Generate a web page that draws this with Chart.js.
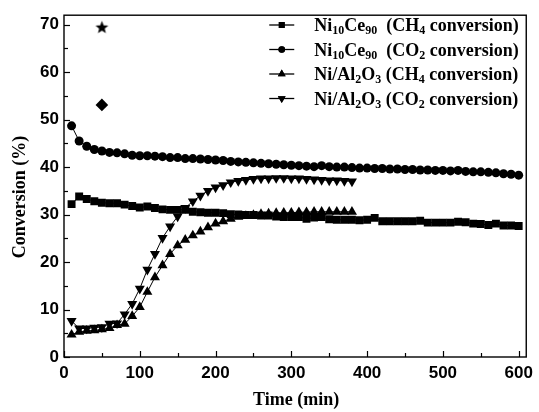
<!DOCTYPE html>
<html><head><meta charset="utf-8">
<script src="https://cdn.jsdelivr.net/npm/chart.js@4"></script>
<style>html,body{margin:0;padding:0;background:#fff}</style>
</head><body>
<canvas id="c" width="539" height="412"></canvas>
<script>
const timeNiCe = [10,20,30,40,50,60,70,80,90,100,110,120,130,140,150,160,170,180,190,200,
  210,220,230,240,250,260,270,280,290,300,310,320,330,340,350,360,370,380,390,400,
  410,420,430,440,450,460,470,480,490,500,510,520,530,540,550,560,570,580,590,600];
const ch4NiCe = [32.2,33.8,33.3,32.8,32.5,32.4,32.4,32.1,31.8,31.5,31.7,31.4,31.1,31.0,31.0,31.0,30.6,30.5,30.4,30.4,
  30.3,30.1,30.0,29.9,29.9,29.8,29.8,29.6,29.5,29.5,29.5,29.1,29.4,29.5,29.0,28.9,28.9,28.9,28.8,28.9,
  29.3,28.6,28.6,28.6,28.6,28.6,28.7,28.3,28.3,28.3,28.3,28.5,28.4,28.1,28.0,27.8,28.1,27.7,27.7,27.6];
const co2NiCe = [48.7,45.5,44.4,43.7,43.4,43.1,43.0,42.8,42.5,42.4,42.4,42.3,42.2,42.0,42.0,41.8,41.8,41.7,41.6,41.5,
  41.4,41.2,41.1,41.0,40.9,40.8,40.7,40.6,40.5,40.4,40.3,40.2,40.1,40.3,40.1,40.0,40.0,39.9,39.8,39.8,
  39.7,39.7,39.6,39.6,39.5,39.5,39.4,39.4,39.3,39.3,39.2,39.3,39.1,39.0,39.0,38.9,38.8,38.6,38.5,38.3];
const timeNiAl = [10,20,30,40,50,60,70,80,90,100,110,120,130,140,150,160,170,180,190,200,
  210,220,230,240,250,260,270,280,290,300,310,320,330,340,350,360,370,380];
const ch4NiAl = [4.7,5.3,5.5,5.6,5.8,6.1,6.7,7.0,8.6,10.5,13.7,16.8,19.3,21.7,23.5,24.7,25.6,26.4,27.3,28.1,
  28.6,29.1,29.5,29.7,29.9,30.1,30.2,30.3,30.4,30.4,30.5,30.5,30.6,30.6,30.6,30.6,30.6,30.6];
const co2NiAl = [7.6,6.0,6.0,6.2,6.3,7.0,7.1,9.0,11.2,14.4,18.4,21.7,25.1,27.5,29.6,31.4,32.8,34.0,35.0,35.7,
  36.2,36.8,37.1,37.3,37.5,37.6,37.6,37.7,37.7,37.6,37.6,37.5,37.4,37.3,37.2,37.2,37.1,37.0];
const starPoint = [{x:50, y:69.5}];
const diamondPoint = [{x:50, y:53.1}];
const xTickLabels = [0,100,200,300,400,500,600];
const yTickLabels = [0,10,20,30,40,50,60,70];
const xMinorStep = 50, yMinorStep = 5;
const axisTitleX = 'Time (min)';
const axisTitleY = 'Conversion (%)';
// legend labels: [text, isSubscript]
const legendLabels = [
  [['Ni',0],['10',1],['Ce',0],['90',1],['  (CH',0],['4',1],[' conversion)',0]],
  [['Ni',0],['10',1],['Ce',0],['90',1],['  (CO',0],['2',1],[' conversion)',0]],
  [['Ni/Al',0],['2',1],['O',0],['3',1],[' (CH',0],['4',1],[' conversion)',0]],
  [['Ni/Al',0],['2',1],['O',0],['3',1],[' (CO',0],['2',1],[' conversion)',0]]
];
const legendStyles = [
  {pointStyle:'rect', radius:4.2, rotation:0},
  {pointStyle:'circle', radius:3.3, rotation:0},
  {pointStyle:'triangle', radius:4.5, rotation:0},
  {pointStyle:'triangle', radius:4.5, rotation:180}
];

function pts(xs, ys){ return xs.map((t,i)=>({x:t, y:ys[i]})); }

function starImg(){
  const c=document.createElement('canvas'); c.width=15; c.height=15;
  const g=c.getContext('2d'); g.fillStyle='#000'; g.beginPath();
  for(let i=0;i<10;i++){ const r=i%2?2.9:6.8; const a=-Math.PI/2+i*Math.PI/5;
    g.lineTo(7.5+r*Math.cos(a), 8.1+r*Math.sin(a)); }
  g.closePath(); g.fill(); return c;
}

const serif = '"Liberation Serif","Times New Roman",serif';
const sans = '"Liberation Sans",Arial,sans-serif';

const framePlugin = {
  id:'frame',
  afterDraw(chart){
    const {ctx, chartArea:{left,right,top,bottom}, scales:{x,y}} = chart;
    ctx.save();
    ctx.strokeStyle='#000'; ctx.fillStyle='#000';
    ctx.lineWidth=1.4;
    ctx.strokeRect(left, top, right-left, bottom-top);
    ctx.lineWidth=1.2;
    const xMax = xTickLabels[xTickLabels.length-1], yMax = yTickLabels[yTickLabels.length-1];
    for(let v=xTickLabels[0]; v<=xMax; v+=xMinorStep){
      const px = Math.round(x.getPixelForValue(v))+0.5;
      const len = xTickLabels.includes(v)?6:4;
      ctx.beginPath(); ctx.moveTo(px,bottom); ctx.lineTo(px,bottom-len); ctx.stroke();
    }
    for(let v=yTickLabels[0]; v<=yMax; v+=yMinorStep){
      const py = Math.round(y.getPixelForValue(v))+0.5;
      const len = yTickLabels.includes(v)?6:4;
      ctx.beginPath(); ctx.moveTo(left,py); ctx.lineTo(left+len,py); ctx.stroke();
    }
    // axis titles
    ctx.font='bold 18px '+serif;
    ctx.textAlign='center'; ctx.textBaseline='middle';
    ctx.fillText(axisTitleX, (left+right)/2+1, 400);
    ctx.save(); ctx.translate(20, (top+bottom)/2+11); ctx.rotate(-Math.PI/2);
    ctx.fillText(axisTitleY, 0, 0); ctx.restore();
    // legend
    const sx0 = right-257, sx1 = right-232, tx = right-212;
    legendLabels.forEach((segs, i)=>{
      const yy = 25 + i*24.5;
      ctx.lineWidth=1.3;
      ctx.beginPath(); ctx.moveTo(sx0, yy); ctx.lineTo(sx1, yy); ctx.stroke();
      Chart.helpers.drawPoint(ctx, {pointStyle:legendStyles[i].pointStyle, radius:legendStyles[i].radius, rotation:legendStyles[i].rotation, borderWidth:0}, (sx0+sx1)/2, yy);
      ctx.fill();
      let cx = tx;
      ctx.textAlign='left'; ctx.textBaseline='alphabetic';
      segs.forEach(([t,sub])=>{
        ctx.font = sub ? 'bold 12px '+serif : 'bold 18px '+serif;
        ctx.fillText(t, cx, yy + 6 + (sub?3:0));
        cx += ctx.measureText(t).width;
      });
    });
    ctx.restore();
  }
};

const common = {borderColor:'#000', backgroundColor:'#000', pointBackgroundColor:'#000', pointBorderColor:'#000',
  borderWidth:1, pointBorderWidth:0, showLine:true, tension:0};

new Chart(document.getElementById('c'), {
  type:'scatter',
  data:{datasets:[
    Object.assign({label:'ch4NiCe', data:pts(timeNiCe,ch4NiCe), pointStyle:'rect', pointRadius:5.6}, common),
    Object.assign({label:'co2NiCe', data:pts(timeNiCe,co2NiCe), pointStyle:'circle', pointRadius:4.5}, common),
    Object.assign({label:'ch4NiAl', data:pts(timeNiAl,ch4NiAl), pointStyle:'triangle', pointRadius:5.8}, common),
    Object.assign({label:'co2NiAl', data:pts(timeNiAl,co2NiAl), pointStyle:'triangle', pointRotation:180, pointRadius:5.8}, common),
    {label:'star', data:starPoint, pointStyle:starImg(), showLine:false},
    {label:'diamond', data:diamondPoint, pointStyle:'rectRot', pointRadius:6.3, pointBackgroundColor:'#000', pointBorderColor:'#000', pointBorderWidth:0, showLine:false}
  ]},
  options:{
    responsive:false, animation:false, devicePixelRatio:1,
    layout:{padding:{top:15,right:9,left:0,bottom:0}},
    plugins:{legend:{display:false}, tooltip:{enabled:false}},
    scales:{
      x:{type:'linear', min:0, max:610,
        afterBuildTicks:s=>{s.ticks = xTickLabels.map(v=>({value:v}));},
        afterFit:s=>{s.height=55;},
        ticks:{font:{family:sans, weight:'bold', size:17}, color:'#000', padding:6, maxRotation:0, autoSkip:false},
        grid:{display:false, drawTicks:false}, border:{display:false}},
      y:{type:'linear', min:0, max:72,
        afterBuildTicks:s=>{s.ticks = yTickLabels.map(v=>({value:v}));},
        afterFit:s=>{s.width=64;},
        ticks:{font:{family:sans, weight:'bold', size:17}, color:'#000', padding:5, autoSkip:false},
        grid:{display:false, drawTicks:false}, border:{display:false}}
    }
  },
  plugins:[framePlugin]
});
</script>
</body></html>
